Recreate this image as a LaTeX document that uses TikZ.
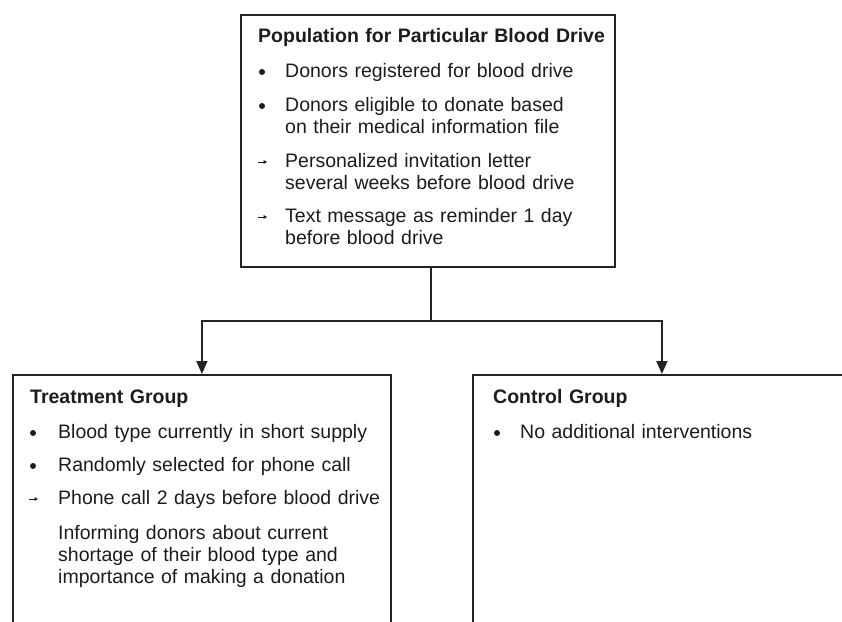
\documentclass[tikz,border=0pt]{standalone}
\usepackage{fontspec}
\setmainfont{Liberation Sans}
\usetikzlibrary{arrows.meta}
\definecolor{ink}{RGB}{28,28,28}
\definecolor{edge}{RGB}{35,35,35}
\begin{document}
\begin{tikzpicture}[x=1pt,y=-1pt,
  box/.style={draw=edge, line width=1.8pt, rectangle, inner sep=0pt, anchor=north west},
  item/.style={anchor=base west, inner sep=0pt, text width=340pt, align=left, text=ink,
    font=\fontsize{19.5}{22}\selectfont},
  head/.style={item, text width=420pt, font=\fontsize{19.5}{22}\selectfont\bfseries},
  conn/.style={draw=edge, line width=1.8pt},
  arr/.style={conn, -{Triangle[length=13pt,width=11pt]}},
  dotb/.style={fill=ink},
  arrb/.style={draw=ink, line width=1pt, -{Triangle[length=3.4pt,width=3.6pt]}}
]
\useasboundingbox (0,0) rectangle (842,621);
\clip (0,0) rectangle (842,621);

% boxes
\node[box, minimum width=374pt, minimum height=252pt] (pop) at (240,14) {};
\node[box, minimum width=378pt, minimum height=300pt] (treat) at (12,374) {};
\node[box, minimum width=378pt, minimum height=300pt] (ctrl) at (472,374) {};

% top box text
\node[head] (popT) at (258,42) {Population for Particular Blood Drive};
\node[item] (p1) at (285,77) {Donors registered for blood drive};
\node[item] (p2) at (285,111) {Donors eligible to donate based\\on their medical information file};
\node[item] (p3) at (285,167) {Personalized invitation letter\\several weeks before blood drive};
\node[item] (p4) at (285,222) {Text message as reminder 1 day\\before blood drive};
\fill[dotb] (262,72) circle (3pt);
\fill[dotb] (262,106) circle (3pt);
\draw[arrb] (258,162) -- (267,162);
\draw[arrb] (258,217) -- (267,217);

% treatment box text
\node[head] (trT) at (30,403) {Treatment Group};
\node[item] (t1) at (58,438) {Blood type currently in short supply};
\node[item] (t2) at (58,471) {Randomly selected for phone call};
\node[item] (t3) at (58,504) {Phone call 2 days before blood drive};
\node[item] (t4) at (58,539) {Informing donors about current\\shortage of their blood type and\\importance of making a donation};
\fill[dotb] (33,433) circle (3pt);
\fill[dotb] (33,466) circle (3pt);
\draw[arrb] (29,499) -- (38,499);

% control box text
\node[head] (ctT) at (493,403) {Control Group};
\node[item] (c1) at (520,438) {No additional interventions};
\fill[dotb] (497,433) circle (3pt);

% connectors
\coordinate (split) at (431,321);
\draw[conn] (pop.south -| split) -- (split);
\draw[arr] (split) -| (treat.north);
\draw[arr] (split) -| (ctrl.north);
\end{tikzpicture}
\end{document}
